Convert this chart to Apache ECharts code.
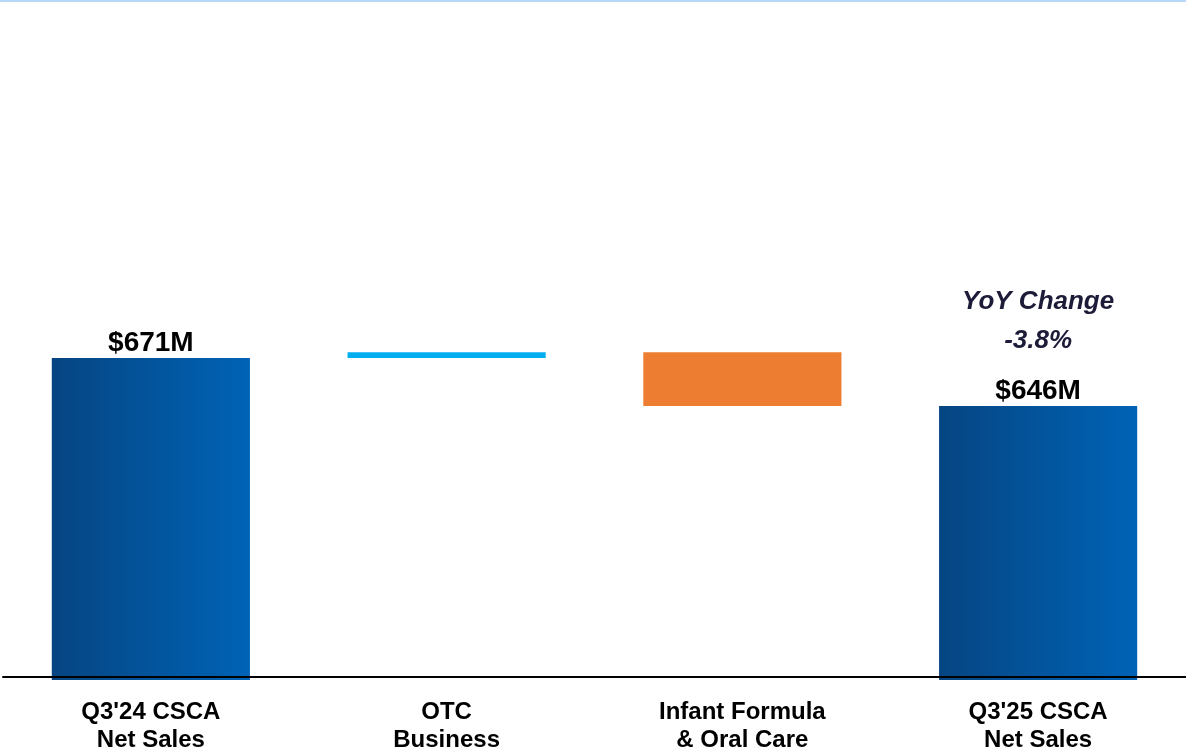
<!DOCTYPE html>
<html lang="en">
<head>
    <meta charset="utf-8">
    <title>CSCA Net Sales Bridge</title>
    <style>
        html, body { margin: 0; padding: 0; background: #fff; }
        #chart { width: 1186px; height: 754px; }
    </style>
</head>
<body>
<div id="chart"></div>
<script src="https://cdn.jsdelivr.net/npm/echarts@6.0.0/dist/echarts.min.js"></script>
<script type="text/javascript">

// bridge data ($M)
var categories = ["Q3'24 CSCA\nNet Sales", "OTC\nBusiness", "Infant Formula\n& Oral Care", "Q3'25 CSCA\nNet Sales"];
var steps = [671, 3, -28, 646];   // start total, changes, end total
var kinds = ['total', 'delta', 'delta', 'total'];
var yoyText = ['YoY Change', '-3.8%'];

// work out invisible base + visible height for each step
var baseData = [];
var barData = [];
var running = 0;
steps.forEach(function (v, i) {
    if (kinds[i] === 'total') {
        baseData.push(0);
        barData.push(v);
        running = v;
    } else {
        var from = running;
        running = running + v;
        baseData.push(Math.min(from, running));
        barData.push(Math.abs(v));
    }
});

var FONT = 'Liberation Sans, Arial, sans-serif';
var blueGrad = new echarts.graphic.LinearGradient(0, 0, 1, 0, [
    { offset: 0, color: '#064582' },
    { offset: 1, color: '#0063b6' }
]);
var barColors = [blueGrad, '#00aeef', '#ed7d31', blueGrad];

var chart = echarts.init(document.getElementById('chart'));
var option = {
    animation: false,
    graphic: [{
        type: 'rect',
        left: 0, top: 0,
        shape: { width: 1186, height: 2 },
        style: { fill: '#b9d8f7' }
    }],
    grid: { left: 3, right: 0, top: 19, bottom: 73 },
    xAxis: {
        type: 'category',
        data: categories,
        offset: -3,
        z: 5,
        axisLine: { lineStyle: { color: '#000', width: 2 } },
        axisTick: { show: false },
        axisLabel: {
            margin: 21,
            color: '#000',
            fontFamily: FONT,
            fontWeight: 'bold',
            fontSize: 24,
            lineHeight: 28
        }
    },
    yAxis: {
        type: 'value',
        min: 503,
        max: 848,
        show: false,
        splitLine: { show: false }
    },
    series: [{
        type: 'bar',
        stack: 'wf',
        data: baseData,
        itemStyle: { color: 'transparent' },
        silent: true
    }, {
        type: 'bar',
        stack: 'wf',
        barWidth: '67%',
        label: {
            show: false,
            position: 'top',
            distance: 0,
            color: '#000',
            fontFamily: FONT,
            fontWeight: 700,
            fontSize: 28,
            lineHeight: 30,
            rich: {
                y: {
                    color: '#1d1c38',
                    fontFamily: FONT,
                    fontStyle: 'italic',
                    fontWeight: 700,
                    fontSize: 26,
                    lineHeight: 39
                },
                s: { fontSize: 10, lineHeight: 16 },
                v: {
                    color: '#000',
                    fontFamily: FONT,
                    fontWeight: 700,
                    fontSize: 28,
                    lineHeight: 30
                }
            }
        },
        data: barData.map(function (v, i) {
            var item = { value: v, itemStyle: { color: barColors[i] } };
            if (i === 0) {
                item.label = { show: true, formatter: '{v|$' + steps[i] + 'M}' };
            }
            if (i === steps.length - 1) {
                item.label = {
                    show: true,
                    formatter: '{y|' + yoyText[0] + '}\n{y|' + yoyText[1] + '}\n{s| }\n{v|$' + steps[i] + 'M}'
                };
            }
            return item;
        })
    }]
};
chart.setOption(option);

</script>
</body>
</html>
